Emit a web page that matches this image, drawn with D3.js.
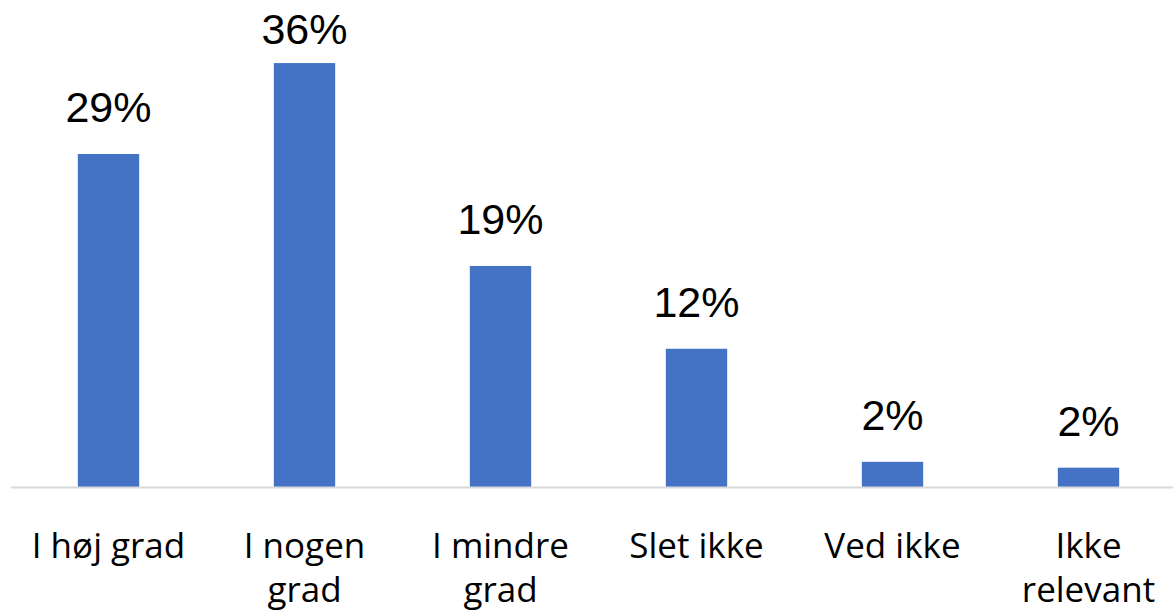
<!DOCTYPE html>
<html>
<head>
<meta charset="utf-8">
<script src="https://cdn.jsdelivr.net/npm/d3@7"></script>
<style>
  html, body { margin: 0; padding: 0; background: #fff; }
  svg { display: block; }
</style>
</head>
<body>
<svg id="chart" width="1173" height="616"></svg>
<script>
const categories = ["I høj grad", "I nogen grad", "I mindre grad", "Slet ikke", "Ved ikke", "Ikke relevant"];
const values = [28.6, 36.4, 19.0, 11.9, 2.2, 1.7];

const W = 1173, H = 616;
const baseline = 487.5;
const svg = d3.select("#chart");

const x = d3.scaleBand()
  .domain(categories)
  .range([10.5, 1186.5])
  .paddingInner(0.687)
  .paddingOuter(0.3435);

const y = d3.scaleLinear()
  .domain([0, 40])
  .range([baseline, baseline - 40 * 11.66]);

// bars
svg.append("g").selectAll("rect")
  .data(values)
  .join("rect")
  .attr("x", (d, i) => x(categories[i]))
  .attr("width", x.bandwidth())
  .attr("y", d => y(d))
  .attr("height", d => y(0) - y(d))
  .attr("fill", "#4472C4");

// axis line
const axis = d3.axisBottom(x).tickSize(0).tickFormat("");
const ag = svg.append("g").attr("transform", `translate(0,${baseline})`).call(axis);
ag.select(".domain").attr("stroke", "#D9D9D9").attr("stroke-width", 2)
  .attr("d", `M11,0H${W}`);

// data labels
svg.append("g").selectAll("text")
  .data(values)
  .join("text")
  .attr("x", (d, i) => x(categories[i]) + x.bandwidth() / 2)
  .attr("y", d => Math.max(43.5, y(d) - 32))
  .attr("text-anchor", "middle")
  .attr("font-family", "'Liberation Sans', Arial, sans-serif")
  .attr("font-size", 43)
  .attr("fill", "#000")
  .text(d => Math.round(d) + "%");

// category labels with wrapping
const lg = svg.append("g");
categories.forEach(c => {
  const cx = x(c) + x.bandwidth() / 2;
  const t = lg.append("text")
    .attr("x", cx)
    .attr("y", 558)
    .attr("text-anchor", "middle")
    .attr("font-family", "'Open Sans', Lato, sans-serif")
    .attr("font-size", 35)
    .attr("fill", "#000");
  const words = c.split(" ");
  let line = [];
  let lineNo = 0;
  let tspan = t.append("tspan").attr("x", cx).attr("y", 558);
  words.forEach(w => {
    line.push(w);
    tspan.text(line.join(" "));
    if (tspan.node().getComputedTextLength() > 185 && line.length > 1) {
      line.pop();
      tspan.text(line.join(" "));
      line = [w];
      lineNo++;
      tspan = t.append("tspan").attr("x", cx).attr("y", 558 + lineNo * 44).text(w);
    }
  });
});
</script>
</body>
</html>
